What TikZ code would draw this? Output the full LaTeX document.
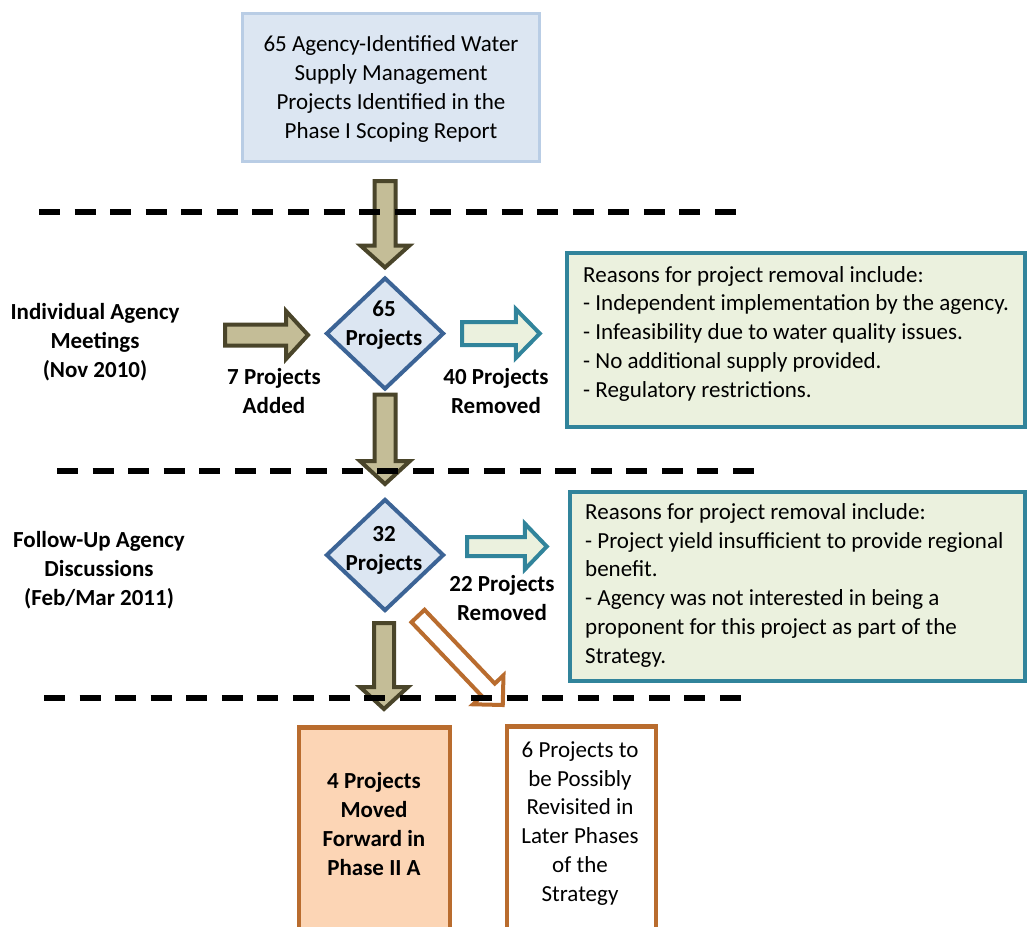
\documentclass[tikz,border=0pt]{standalone}
\usepackage{fontspec}
\setmainfont{Carlito}
\usetikzlibrary{calc,shapes.geometric}
\definecolor{boxblue}{HTML}{DCE6F2}
\definecolor{boxblueline}{HTML}{B9CDE5}
\definecolor{diaEdge}{HTML}{3C6496}
\definecolor{olive}{HTML}{C4BD97}
\definecolor{oliveline}{HTML}{4A452A}
\definecolor{teal}{HTML}{31849B}
\definecolor{palegreen}{HTML}{EBF1DE}
\definecolor{peach}{HTML}{FCD5B5}
\definecolor{rust}{HTML}{B96C2E}
\newcommand{\blockarr}[6]{%
  \path ($(#3)!#6!(#2)$) coordinate (hb);
  \draw[#1] ($(#2)!#4!90:(#3)$) -- ($(hb)!#4!90:(#3)$) -- ($(hb)!#5!90:(#3)$) -- (#3)
    -- ($(hb)!#5!-90:(#3)$) -- ($(hb)!#4!-90:(#3)$) -- ($(#2)!#4!-90:(#3)$) -- cycle;}
\tikzset{
  txt/.style={font=\fontsize{23}{28.7}\selectfont, inner sep=0pt, align=center},
  btxt/.style={txt, font=\fontsize{23}{28.7}\selectfont\bfseries},
  ltxt/.style={txt, align=left},
  topbox/.style={draw=boxblueline, fill=boxblue, line width=3pt, inner sep=0pt},
  dia/.style={diamond, draw=diaEdge, fill=boxblue, line width=4pt, inner sep=0pt,
    minimum width=118pt, minimum height=112pt},
  reasonbox/.style={draw=teal, fill=palegreen, line width=4.5pt, inner sep=0pt},
  outbox/.style={draw=rust, line width=4.5pt, inner sep=0pt},
  olivearr/.style={draw=oliveline, fill=olive, line width=4pt, miter limit=10},
  tealarr/.style={draw=teal, fill=palegreen, line width=4pt, miter limit=10},
  rustarr/.style={draw=rust, fill=white, line width=4pt, miter limit=10},
  sepline/.style={black, line width=6pt, dash pattern=on 21pt off 14.58pt},
}
\begin{document}
\begin{tikzpicture}[x=1pt,y=-1pt]
\useasboundingbox[fill=white] (0,0) rectangle (1029,927);

% top box
\node[topbox, minimum width=297pt, minimum height=148pt] (top) at (391,87.5) {};
\node[txt, anchor=base] (topt) at (391,138) {65 Agency-Identified Water\\Supply Management\\Projects Identified in the\\Phase I Scoping Report};

% diamonds
\node[dia] (d1) at (385,333.5) {};
\node[btxt, anchor=base] (d1t) at (384,345) {65\\Projects};
\node[dia] (d2) at (385,555) {};
\node[btxt, anchor=base] (d2t) at (384,570) {32\\Projects};

% reasons boxes
\node[reasonbox, minimum width=458pt, minimum height=174pt] (r1) at (796,340) {};
\node[ltxt, anchor=base west] (r1t) at (583,397) {Reasons for project removal include:\\- Independent implementation by the agency.\\- Infeasibility due to water quality issues.\\- No additional supply provided.\\- Regulatory restrictions.};
\node[reasonbox, minimum width=455pt, minimum height=189pt] (r2) at (797.5,586.5) {};
\node[ltxt, anchor=base west] (r2t) at (585,663) {Reasons for project removal include:\\- Project yield insufficient to provide regional\\benefit.\\- Agency was not interested in being a\\proponent for this project as part of the\\Strategy.};

% outcome boxes
\node[outbox, fill=peach, minimum width=151pt, minimum height=215pt, anchor=north] (fwd) at (374.5,725) {};
\node[btxt, anchor=base] (fwdt) at (374,875) {4 Projects\\Moved\\Forward in\\Phase II A};
\node[outbox, fill=white, minimum width=149pt, minimum height=215pt, anchor=north] (rev) at (581.5,724) {};
\node[txt, anchor=base] (revt) at (580,901) {6 Projects to\\be Possibly\\Revisited in\\Later Phases\\of the\\Strategy};

% side labels
\node[btxt, anchor=base] (lab1) at (95,377) {Individual Agency\\Meetings\\(Nov 2010)};
\node[btxt, anchor=base] (lab2) at (99,605) {Follow-Up Agency\\Discussions\\(Feb/Mar 2011)};
\node[btxt, anchor=base] (addt) at (274,413) {7 Projects\\Added};
\node[btxt, anchor=base] (rm1t) at (496,413) {40 Projects\\Removed};
\node[btxt, anchor=base] (rm2t) at (502,620) {22 Projects\\Removed};

% block arrows
\coordinate (a1s) at ($(top.south)+(-6,18)$);
\coordinate (a1e) at ($(d1.north)+(0,-8)$);
\blockarr{olivearr}{a1s}{a1e}{10.5pt}{24.5pt}{22pt}
\coordinate (a2s) at ($(d1.south)+(0,3)$);
\coordinate (a2e) at ($(d2.north)+(0,-13)$);
\blockarr{olivearr}{a2s}{a2e}{10.5pt}{25pt}{23pt}
\coordinate (a3s) at ($(d2.south)+(-1,10)$);
\coordinate (a3e) at ($(fwd.north)+(9.5,-16)$);
\blockarr{olivearr}{a3s}{a3e}{10pt}{24pt}{22pt}
\coordinate (ains) at (225,335);
\coordinate (aine) at ($(d1.west)+(-16,1.5)$);
\blockarr{olivearr}{ains}{aine}{10.5pt}{24pt}{22pt}
\coordinate (o1s) at ($(d1.east)+(16,0)$);
\coordinate (o1e) at ($(r1.west)+(-25,-6.5)$);
\path (o1s |- o1e) coordinate (o1s);
\blockarr{tealarr}{o1s}{o1e}{11.5pt}{24.5pt}{24pt}
\coordinate (o2s) at ($(d2.east)+(21,-8.5)$);
\coordinate (o2e) at ($(r2.west)+(-21,-40)$);
\path (o2s |- o2e) coordinate (o2s);
\blockarr{tealarr}{o2s}{o2e}{9.5pt}{23pt}{22pt}
\coordinate (dgs) at ($(d2.south)+(33,3)$);
\coordinate (dge) at ($(rev.north west)+(-2,-19)$);
\blockarr{rustarr}{dgs}{dge}{9pt}{21pt}{21pt}

% separator lines
\coordinate (s1a) at (39,212); \coordinate (s1b) at (736,212);
\coordinate (s2a) at (57,471); \coordinate (s2b) at (754,471);
\coordinate (s3a) at (44,698); \coordinate (s3b) at (741,698);
\draw[sepline] (s1a) -- (s1b);
\draw[sepline] (s2a) -- (s2b);
\draw[sepline] (s3a) -- (s3b);
\end{tikzpicture}
\end{document}
